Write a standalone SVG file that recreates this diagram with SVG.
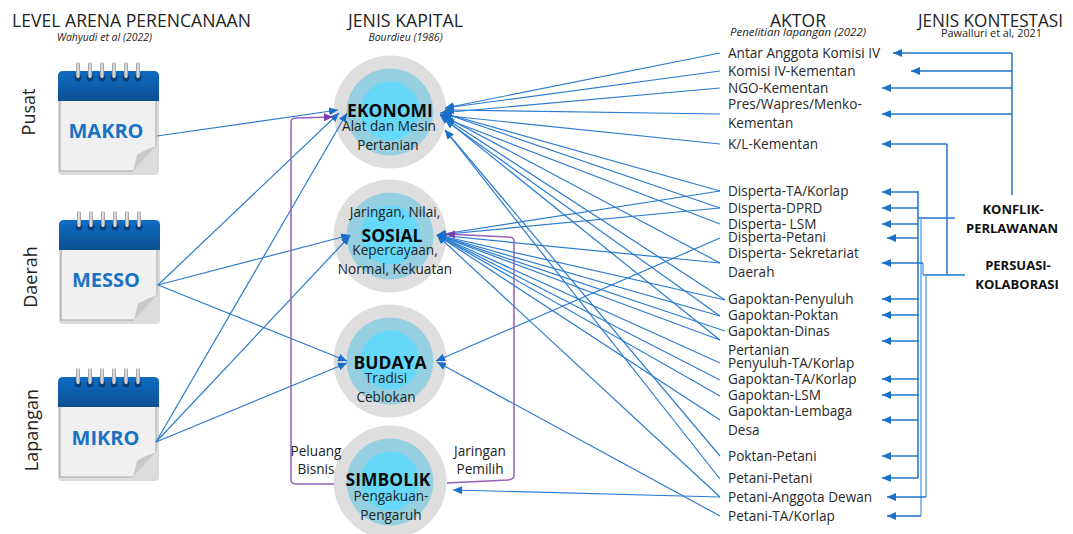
<svg xmlns="http://www.w3.org/2000/svg" xmlns:xlink="http://www.w3.org/1999/xlink" width="1073" height="534" viewBox="0 0 1073 534">
<style>
text{font-family:"Open Sans","Noto Sans","Liberation Sans",sans-serif;fill:#222}
.h{font-size:18px}
.cite{font-size:10.5px;font-style:italic;text-anchor:middle}
.a{font-size:13.6px;fill:#2a2a2a}
.c{font-size:13.6px;text-anchor:middle}
.big{font-size:17.5px;font-weight:700;text-anchor:middle;fill:#0b0b0b}
.k{font-size:13px;font-weight:700;text-anchor:middle;fill:#111}
.cal{font-size:20px;font-weight:700;text-anchor:middle;fill:#1a72c4}
.side{font-size:18px;text-anchor:middle}
.o{fill:#dedede}.m{fill:#96cfe0}.n{fill:#66d9fb}
.l{fill:none;stroke:#2b7ccf;stroke-width:1.2}
.la{fill:none;stroke:#2b7ccf;stroke-width:1.2;marker-end:url(#ah)}
.b{fill:none;stroke:#1f74cc;stroke-width:1.5}
.ba{fill:none;stroke:#1f74cc;stroke-width:1.5;marker-end:url(#ah)}
.bl{fill:none;stroke:#6aa9e2;stroke-width:1.5}
.p{fill:none;stroke:#9460b8;stroke-width:1.5}
</style>
<defs>
<marker id="ah" markerUnits="userSpaceOnUse" markerWidth="10" markerHeight="8" refX="9" refY="4" orient="auto"><path d="M0,0 L9,4 L0,8 Z" fill="#1a6fc9"/></marker>
<marker id="ap" markerUnits="userSpaceOnUse" markerWidth="10" markerHeight="8" refX="9" refY="4" orient="auto"><path d="M0,0 L9,4 L0,8 Z" fill="#7b3fb0"/></marker>
<linearGradient id="hd" x1="0" y1="0" x2="0" y2="1"><stop offset="0" stop-color="#0f6cc4"/><stop offset="1" stop-color="#0c4f92"/></linearGradient>
<linearGradient id="rg" x1="0" y1="0" x2="1" y2="0"><stop offset="0" stop-color="#8f8f8f"/><stop offset=".5" stop-color="#eeeeee"/><stop offset="1" stop-color="#8f8f8f"/></linearGradient>
<g id="calendar">
<path d="M0,30 H101 V100 Q101,104 97,104 H4 Q0,104 0,100 Z" fill="#dcdcdc"/>
<path d="M2,30 H98 V75 L75,100 H2 Z" fill="#f0f0f0"/>
<path d="M2,30 V100 H75" fill="none" stroke="#a8a8a8" stroke-width="1.2"/>
<path d="M98,30 V75" fill="none" stroke="#b4b4b4" stroke-width="1.2"/>
<path d="M75,100 L79,84 Q82,81 98,75 Z" fill="#c8c8c8"/>
<path d="M0,30 V5 Q0,0 5,0 H96 Q101,0 101,5 V30 Z" fill="url(#hd)"/>
<g id="rings">
<circle cx="20" cy="7" r="3.4" fill="#0a3f75"/><rect x="18" y="-9" width="4" height="16" rx="2" fill="url(#rg)"/>
<circle cx="32" cy="7" r="3.4" fill="#0a3f75"/><rect x="30" y="-9" width="4" height="16" rx="2" fill="url(#rg)"/>
<circle cx="44" cy="7" r="3.4" fill="#0a3f75"/><rect x="42" y="-9" width="4" height="16" rx="2" fill="url(#rg)"/>
<circle cx="56" cy="7" r="3.4" fill="#0a3f75"/><rect x="54" y="-9" width="4" height="16" rx="2" fill="url(#rg)"/>
<circle cx="68" cy="7" r="3.4" fill="#0a3f75"/><rect x="66" y="-9" width="4" height="16" rx="2" fill="url(#rg)"/>
<circle cx="80" cy="7" r="3.4" fill="#0a3f75"/><rect x="78" y="-9" width="4" height="16" rx="2" fill="url(#rg)"/>
</g>
</g>
</defs>
<rect width="1073" height="534" fill="#fff"/>

<g id="headings">
<text class="h" x="12" y="27" textLength="239" lengthAdjust="spacingAndGlyphs">LEVEL ARENA PERENCANAAN</text>
<text class="cite" x="104.500" y="41">Wahyudi et al (2022)</text>
<text class="h" x="348" y="27" textLength="115" lengthAdjust="spacingAndGlyphs">JENIS KAPITAL</text>
<text class="cite" x="405.500" y="41">Bourdieu (1986)</text>
<text class="h" x="770" y="27" textLength="56" lengthAdjust="spacingAndGlyphs">AKTOR</text>
<text class="cite" x="798" y="36" textLength="136" lengthAdjust="spacingAndGlyphs">Penelitian lapangan (2022)</text>
<text class="h" x="918" y="27" textLength="145" lengthAdjust="spacingAndGlyphs">JENIS KONTESTASI</text>
<text class="cite" x="991.500" y="37" style="font-style:normal" textLength="101" lengthAdjust="spacingAndGlyphs">Pawalluri et al, 2021</text>
</g>

<g id="level-pusat"><text class="side" transform="translate(35,112) rotate(-90)">Pusat</text></g>
<g id="level-daerah"><text class="side" transform="translate(37,277) rotate(-90)">Daerah</text></g>
<g id="level-lapangan"><text class="side" transform="translate(38,430) rotate(-90)">Lapangan</text></g>

<g id="node-makro"><use href="#calendar" x="58" y="71"/><text class="cal" x="106" y="138">MAKRO</text></g>
<g id="node-messo"><use href="#calendar" x="59" y="220"/><text class="cal" x="106" y="287">MESSO</text></g>
<g id="node-mikro"><use href="#calendar" x="58" y="377"/><text class="cal" x="105.500" y="445">MIKRO</text></g>

<g id="node-ekonomi">
<circle class="o" cx="390" cy="112" r="56.500"/><circle class="m" cx="390" cy="112" r="43.500"/><circle class="n" cx="390" cy="111" r="29.500"/>
<text class="big" x="390" y="117">EKONOMI</text>
<text class="c" x="389" y="131">Alat dan Mesin</text>
<text class="c" x="388" y="150">Pertanian</text>
</g>
<g id="node-sosial">
<circle class="o" cx="390" cy="236" r="56.500"/><circle class="m" cx="390" cy="236" r="43.500"/><circle class="n" cx="390" cy="235" r="29.500"/>
<text class="c" x="395" y="217">Jaringan, Nilai,</text>
<text class="big" x="392" y="242">SOSIAL</text>
<text class="c" x="395" y="255">Kepercayaan,</text>
<text class="c" x="395" y="274">Normal, Kekuatan</text>
</g>
<g id="node-budaya">
<circle class="o" cx="390" cy="361" r="56.500"/><circle class="m" cx="390" cy="361" r="43.500"/><circle class="n" cx="390" cy="360" r="29.500"/>
<text class="big" x="390" y="369">BUDAYA</text>
<text class="c" x="386" y="383">Tradisi</text>
<text class="c" x="386" y="402">Ceblokan</text>
</g>
<g id="node-simbolik">
<circle class="o" cx="390" cy="482" r="56.500"/><circle class="m" cx="390" cy="482" r="43.500"/><circle class="n" cx="390" cy="481" r="29.500"/>
<text class="big" x="388" y="486">SIMBOLIK</text>
<text class="c" x="391" y="501">Pengakuan-</text>
<text class="c" x="391" y="520">Pengaruh</text>
</g>

<g id="connectors">
<g id="left-links">
<path class="la" d="M157,136 L338,110"/>
<path class="la" d="M158,285 L339,113"/>
<path class="la" d="M156,442 L347,113"/>
<path class="la" d="M158,285 L350,235"/>
<path class="la" d="M156,442 L350,236"/>
<path class="la" d="M158,285 L347,361"/>
<path class="la" d="M156,442 L347,363"/>
</g>
<g id="actor-links">
<path class="la" d="M720,53 L445,108"/>
<path class="la" d="M720,71 L445,108"/>
<path class="la" d="M720,88 L440,113"/>
<path class="la" d="M720,114 L445,110"/>
<path class="la" d="M720,144 L440,115"/>
<path class="la" d="M720,191 L443,113"/>
<path class="la" d="M720,208 L443,113"/>
<path class="la" d="M720,224 L444,118"/>
<path class="la" d="M720,263 L440,114"/>
<path class="la" d="M725,300 L445,118"/>
<path class="la" d="M720,316 L445,120"/>
<path class="la" d="M720,340 L440,115"/>
<path class="la" d="M720,456 L445,130"/>
<path class="la" d="M720,479 L445,130"/>
<path class="la" d="M720,191 L437,235"/>
<path class="la" d="M720,208 L437,235"/>
<path class="la" d="M720,263 L437,235"/>
<path class="la" d="M725,300 L437,235"/>
<path class="la" d="M720,316 L437,235"/>
<path class="la" d="M725,331 L437,235"/>
<path class="la" d="M720,340 L437,235"/>
<path class="la" d="M720,363 L437,235"/>
<path class="la" d="M720,380 L437,235"/>
<path class="la" d="M720,396 L437,235"/>
<path class="la" d="M720,420 L437,235"/>
<path class="la" d="M720,497 L437,235"/>
<path class="la" d="M720,238 L436,361"/>
<path class="la" d="M720,516 L437,362"/>
<path class="la" d="M720,497 L453,490"/>
</g>
<g id="capital-links">
<path class="p" marker-end="url(#ap)" d="M334,484 L297,484 Q291,484 291,480 V122 Q291,118 296,118 L333,117"/>
<path class="p" marker-end="url(#ap)" d="M447,483 L508,480 Q514,479 514,476 V241 Q514,237 508,237 L446,234"/>
</g>
<g id="kontestasi-links">
<path class="b" d="M1012,195 V53"/>
<path class="ba" d="M1012,53 H893"/>
<path class="ba" d="M1012,71 H911"/>
<path class="ba" d="M1012,88 H882"/>
<path class="ba" d="M1012,114 H882"/>
<path class="b" d="M955,218 H918"/>
<path class="b" d="M918,191 V478"/>
<path class="bl" d="M921,218 V516"/>
<path class="bl" d="M923,263 V275"/>
<path class="ba" d="M918,192 H882"/>
<path class="ba" d="M918,208 H882"/>
<path class="ba" d="M918,224 H882"/>
<path class="ba" d="M918,238 H887"/>
<path class="ba" d="M923,263 H882"/>
<path class="ba" d="M918,299 H882"/>
<path class="ba" d="M918,315 H882"/>
<path class="ba" d="M918,341 H882"/>
<path class="ba" d="M918,379 H882"/>
<path class="ba" d="M918,395 H882"/>
<path class="ba" d="M918,420 H882"/>
<path class="ba" d="M918,456 H882"/>
<path class="ba" d="M918,478 H882"/>
<path class="ba" d="M921,516 H887"/>
<path class="b" d="M965,275 H923"/>
<path class="b" d="M947,275 V144"/>
<path class="ba" d="M947,144 H882"/>
<path class="bl" d="M926,275 V497"/>
<path class="ba" d="M926,497 H887"/>
</g>
</g>

<g id="labels-link"><text class="c" x="316" y="456">Peluang</text><text class="c" x="316" y="474">Bisnis</text><text class="c" x="480" y="456">Jaringan</text><text class="c" x="480" y="474">Pemilih</text></g>

<g id="actors">
<g id="actor-1"><text class="a" x="728" y="58">Antar Anggota Komisi IV</text></g>
<g id="actor-2"><text class="a" x="728" y="76">Komisi IV-Kementan</text></g>
<g id="actor-3"><text class="a" x="728" y="93">NGO-Kementan</text></g>
<g id="actor-4"><text class="a" x="728" y="109">Pres/Wapres/Menko-</text><text class="a" x="728" y="128">Kementan</text></g>
<g id="actor-5"><text class="a" x="728" y="149">K/L-Kementan</text></g>
<g id="actor-6"><text class="a" x="728" y="196">Disperta-TA/Korlap</text></g>
<g id="actor-7"><text class="a" x="728" y="213">Disperta-DPRD</text></g>
<g id="actor-8"><text class="a" x="728" y="229">Disperta- LSM</text></g>
<g id="actor-9"><text class="a" x="728" y="242">Disperta-Petani</text></g>
<g id="actor-10"><text class="a" x="728" y="258">Disperta- Sekretariat</text><text class="a" x="728" y="277">Daerah</text></g>
<g id="actor-11"><text class="a" x="728" y="304">Gapoktan-Penyuluh</text></g>
<g id="actor-12"><text class="a" x="728" y="320">Gapoktan-Poktan</text></g>
<g id="actor-13"><text class="a" x="728" y="336">Gapoktan-Dinas</text><text class="a" x="728" y="355">Pertanian</text></g>
<g id="actor-14"><text class="a" x="728" y="368">Penyuluh-TA/Korlap</text></g>
<g id="actor-15"><text class="a" x="728" y="384">Gapoktan-TA/Korlap</text></g>
<g id="actor-16"><text class="a" x="728" y="400">Gapoktan-LSM</text></g>
<g id="actor-17"><text class="a" x="728" y="416">Gapoktan-Lembaga</text><text class="a" x="728" y="435">Desa</text></g>
<g id="actor-18"><text class="a" x="728" y="461">Poktan-Petani</text></g>
<g id="actor-19"><text class="a" x="728" y="483">Petani-Petani</text></g>
<g id="actor-20"><text class="a" x="728" y="502">Petani-Anggota Dewan</text></g>
<g id="actor-21"><text class="a" x="728" y="521">Petani-TA/Korlap</text></g>
</g>

<g id="node-konflik"><text class="k" x="1013" y="214">KONFLIK-</text><text class="k" x="1012" y="233">PERLAWANAN</text></g>
<g id="node-persuasi"><text class="k" x="1018" y="270">PERSUASI-</text><text class="k" x="1017" y="289">KOLABORASI</text></g>
</svg>
